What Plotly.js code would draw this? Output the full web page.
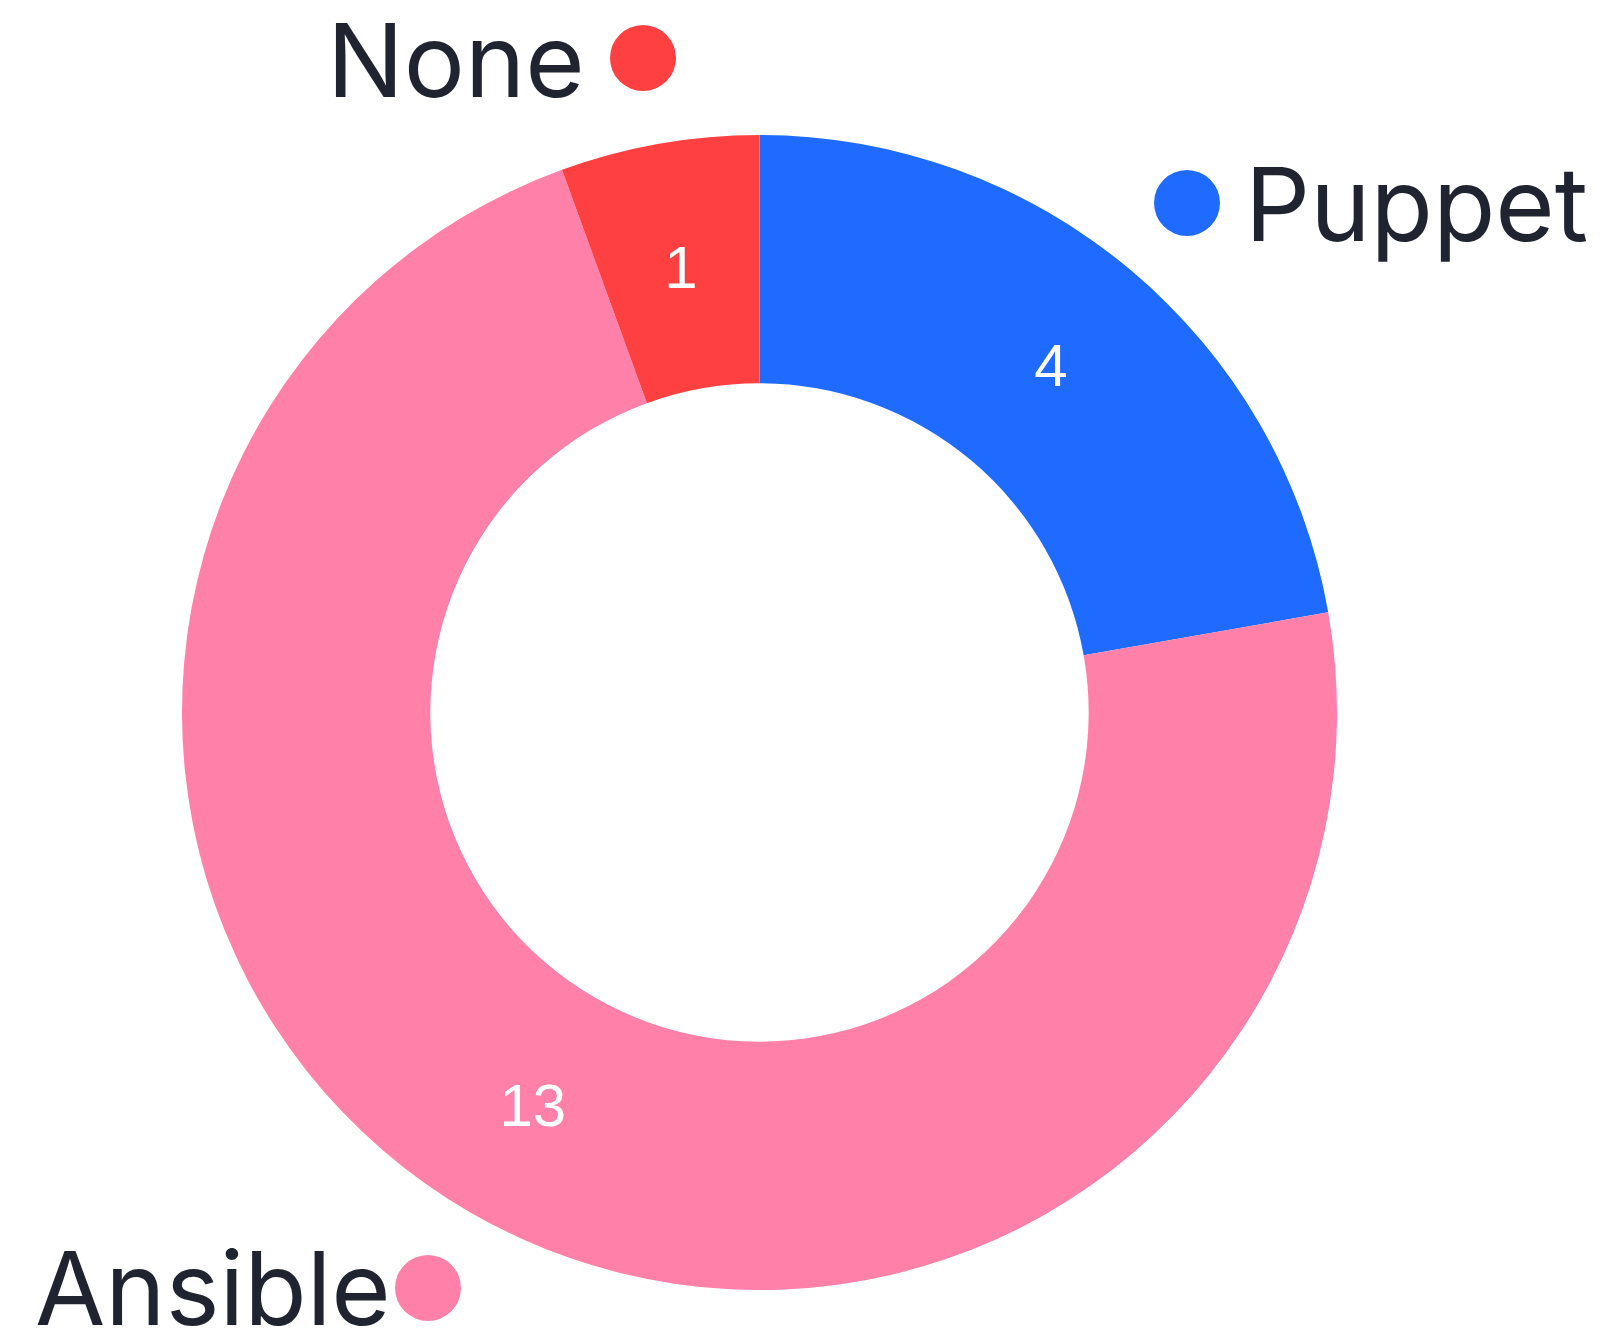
<!DOCTYPE html>
<html>
<head>
<meta charset="utf-8">
<script src="https://cdn.plot.ly/plotly-3.0.1.min.js"></script>
<style>html,body{margin:0;padding:0;background:#fff;overflow:hidden;}#chart{width:1604px;height:1338px;}</style>
</head>
<body>
<div id="chart"></div>
<script>
const labels = ["Puppet", "Ansible", "None"];
const values = [4, 13, 1];
const colors = ["#1f6bff", "#ff80a8", "#ff4040"];

const W = 1604, H = 1338;

// pixel positions of the custom legend labels and their key dots
const labelPos = {
  "None":    {tx: 587, ty: 60, anchor: "right", dx: 643, dy: 58},
  "Puppet":  {tx: 1243, ty: 204, anchor: "left", dx: 1187, dy: 203},
  "Ansible": {tx: 33, ty: 1288, anchor: "left", dx: 428, dy: 1288}
};

const annotations = labels.map(lab => {
  const p = labelPos[lab];
  return {
    text: lab, xref: "paper", yref: "paper",
    x: p.tx / W, y: 1 - p.ty / H, xanchor: p.anchor, yanchor: "middle",
    showarrow: false,
    font: {family: "Inter", size: 102, color: "#1f2430"}
  };
});

const cx = 759.5, cy = 712.5, R = 577.5;
// narrow slices get their value label from a transparent copy of the pie with a smaller radius,
// so that the label sits in the middle of the ring, as in the reference
const R2 = 530.5;
const total = values.reduce((a, b) => a + b, 0);
const narrow = values.map(v => v / total < 0.1);

const mainTrace = {
  type: "pie",
  labels: labels,
  values: values,
  sort: false,
  direction: "clockwise",
  hole: 0.57,
  marker: {colors: colors},
  textinfo: "value",
  textposition: narrow.map(n => n ? "none" : "inside"),
  insidetextorientation: "horizontal",
  textfont: {family: "Liberation Sans", size: 60, color: "#ffffff"},
  showlegend: false,
  domain: {x: [(cx - R) / W, (cx + R) / W], y: [1 - (cy + R) / H, 1 - (cy - R) / H]}
};

const textTrace = {
  type: "pie",
  labels: labels,
  values: values,
  sort: false,
  direction: "clockwise",
  hole: 0.57,
  marker: {colors: labels.map(() => "rgba(0,0,0,0)")},
  textinfo: "value",
  textposition: narrow.map(n => n ? "inside" : "none"),
  insidetextorientation: "horizontal",
  textfont: {family: "Liberation Sans", size: 60, color: "#ffffff"},
  showlegend: false,
  domain: {x: [(cx - R2) / W, (cx + R2) / W], y: [1 - (cy + R2) / H, 1 - (cy - R2) / H]}
};

// legend key dots, on a hidden pixel-space axis pair
const keyTrace = {
  type: "scatter",
  mode: "markers",
  x: labels.map(l => labelPos[l].dx),
  y: labels.map(l => labelPos[l].dy),
  marker: {size: 66, color: colors, line: {width: 0}},
  hoverinfo: "skip",
  showlegend: false,
  cliponaxis: false
};

const layout = {
  width: W, height: H,
  margin: {l: 0, r: 0, t: 0, b: 0},
  font: {family: "Inter"},
  xaxis: {range: [0, W], visible: false, fixedrange: true},
  yaxis: {range: [H, 0], visible: false, fixedrange: true},
  annotations: annotations
};

Plotly.newPlot("chart", [mainTrace, textTrace, keyTrace], layout, {displayModeBar: false, staticPlot: true});
</script>
</body>
</html>
